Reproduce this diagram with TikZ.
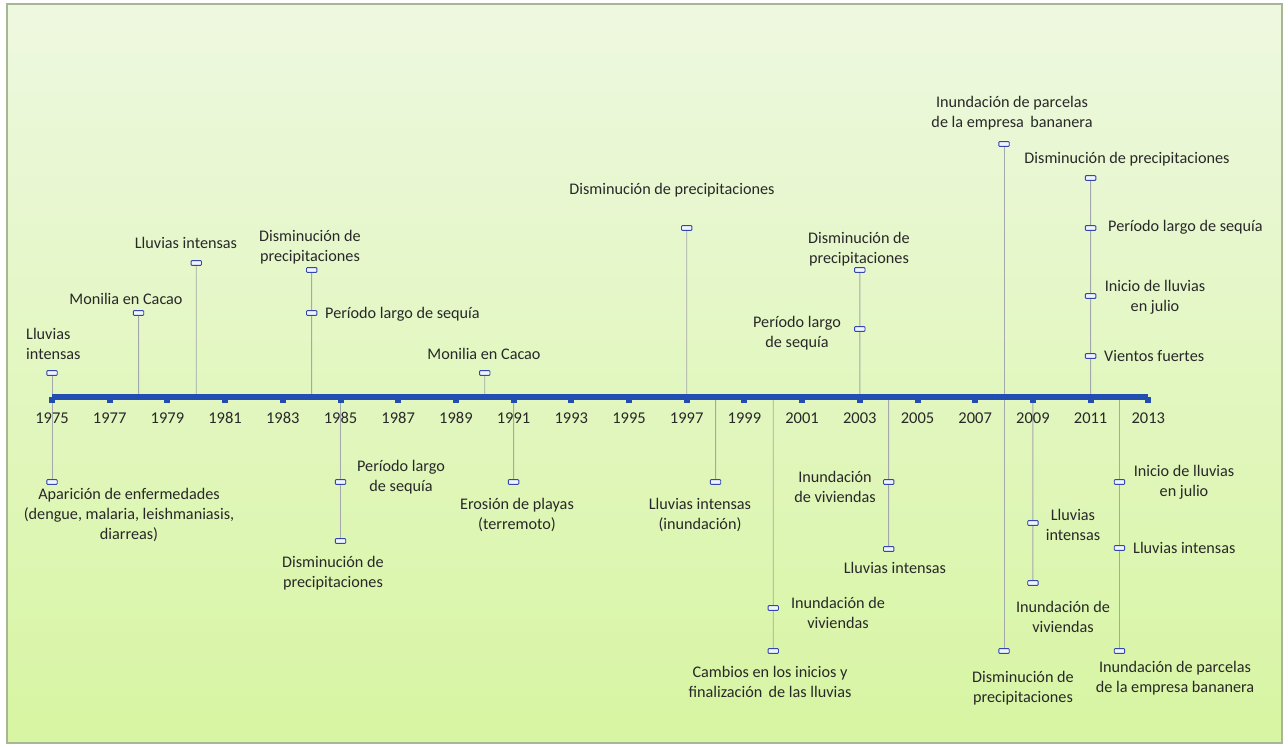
\documentclass[tikz,border=0pt]{standalone}
\usepackage{fontspec}
\setmainfont{Carlito}
\definecolor{bgtop}{RGB}{238,248,224}
\definecolor{bgbot}{RGB}{215,245,162}
\definecolor{frame}{RGB}{168,182,150}
\definecolor{axisblue}{RGB}{34,78,178}
\definecolor{mkblue}{RGB}{52,70,175}
\definecolor{mkfill}{RGB}{240,244,255}
\definecolor{stemgray}{RGB}{165,168,170}
\definecolor{txt}{RGB}{40,40,40}
\begin{document}
\begin{tikzpicture}[x=1pt,y=-1pt,
  mk/.style={draw=mkblue,fill=mkfill,rounded corners=0.8pt,minimum width=9.5pt,minimum height=3.8pt,inner sep=0pt,line width=0.9pt},
  stem/.style={draw=stemgray,line width=0.9pt},
  lbl/.style={text=txt,align=center,inner sep=0pt,font=\fontsize{16.2}{20}\selectfont},
  yr/.style={text=txt,inner sep=0pt,font=\fontsize{16.5}{19}\selectfont}]
\useasboundingbox (0,0) rectangle (1288,747);
\fill[white] (0,0) rectangle (1288,747);
\shade[top color=bgtop,bottom color=bgbot] (7,4) rectangle (1282,743);
\draw[frame,line width=1.2pt] (7,4) rectangle (1282,743);

% axis coordinates
\foreach \yr in {1975,...,2013}{
  \coordinate (ax\yr) at ({52+(\yr-1975)*28.85},397);
}

% markers above
\node[mk] (m75a) at (52,373) {};
\node[mk] (m78a) at (138.55,313) {};
\node[mk] (m80a) at (196.25,263) {};
\node[mk] (m84a) at (311.65,270) {};
\node[mk] (m84b) at (311.65,313) {};
\node[mk] (m90a) at (484.75,373) {};
\node[mk] (m97a) at (686.7,228) {};
\node[mk] (m03a) at (859.8,270) {};
\node[mk] (m03b) at (859.8,329) {};
\node[mk] (m08a) at (1004.05,144) {};
\node[mk] (m11a) at (1090.6,178) {};
\node[mk] (m11b) at (1090.6,228) {};
\node[mk] (m11c) at (1090.6,296) {};
\node[mk] (m11d) at (1090.6,356) {};
% markers below
\node[mk] (m75b) at (52,482) {};
\node[mk] (m85a) at (340.5,482) {};
\node[mk] (m85b) at (340.5,541) {};
\node[mk] (m91a) at (513.6,482) {};
\node[mk] (m98a) at (715.55,482) {};
\node[mk] (m00a) at (773.25,608) {};
\node[mk] (m00b) at (773.25,651) {};
\node[mk] (m04a) at (888.65,482) {};
\node[mk] (m04b) at (888.65,549) {};
\node[mk] (m08b) at (1004.05,651) {};
\node[mk] (m09a) at (1032.9,523) {};
\node[mk] (m09b) at (1032.9,583) {};
\node[mk] (m12a) at (1119.45,482) {};
\node[mk] (m12b) at (1119.45,548) {};
\node[mk] (m12c) at (1119.45,651) {};

% stems
\draw[stem] (ax1975) -- (m75a.south);
\draw[stem] (ax1978) -- (m78a.south);
\draw[stem] (ax1980) -- (m80a.south);
\draw[stem] (ax1984) -- (m84a.south);
\draw[stem] (ax1990) -- (m90a.south);
\draw[stem] (ax1997) -- (m97a.south);
\draw[stem] (ax2003) -- (m03a.south);
\draw[stem] (m08a.south) -- (m08b.north);
\draw[stem] (ax2011) -- (m11a.south);
\draw[stem] (ax1975) -- (m75b.north);
\draw[stem] (ax1985) -- (m85b.north);
\draw[stem] (ax1991) -- (m91a.north);
\draw[stem] (ax1998) -- (m98a.north);
\draw[stem] (ax2000) -- (m00b.north);
\draw[stem] (ax2004) -- (m04b.north);
\draw[stem] (ax2009) -- (m09b.north);
\draw[stem] (ax2012) -- (m12c.north);

% redraw markers on top of stems
\foreach \m in {m75a,m78a,m80a,m84a,m84b,m90a,m97a,m03a,m03b,m08a,m11a,m11b,m11c,m11d,m75b,m85a,m85b,m91a,m98a,m00a,m00b,m04a,m04b,m08b,m09a,m09b,m12a,m12b,m12c}{
  \draw[mkblue,fill=mkfill,rounded corners=0.8pt,line width=0.9pt] (\m.south west) rectangle (\m.north east);
}

% axis line and ticks
\draw[axisblue,line width=6pt] (ax1975) -- (ax2013);
\foreach \yr in {1975,1977,...,2013}{
  \fill[axisblue] ([xshift=-3pt]ax\yr) rectangle ([xshift=3pt,yshift=-6pt]ax\yr);
  \node[yr] (t\yr) at ([yshift=-21pt]ax\yr) {\yr};
}

% labels above
\node[lbl,align=left,anchor=west] (l75a) at (26,344) {Lluvias\\intensas};
\node[lbl] (l78a) at (126,299) {Monilia en Cacao};
\node[lbl] (l80a) at (186,243) {Lluvias intensas};
\node[lbl] (l84a) at (310,247) {Disminución de\\precipitaciones};
\node[lbl,anchor=west] (l84b) at (325,314) {Período largo de sequía};
\node[lbl] (l90a) at (484,354) {Monilia en Cacao};
\node[lbl] (l97a) at (672,190) {Disminución de precipitaciones};
\node[lbl] (l03a) at (859,249) {Disminución de\\precipitaciones};
\node[lbl] (l03b) at (797,333) {Período largo\\de sequía};
\node[lbl] (l08a) at (1012,113) {Inundación de parcelas\\de la empresa \,bananera};
\node[lbl] (l11a) at (1127,159) {Disminución de precipitaciones};
\node[lbl,anchor=west] (l11b) at (1108,227) {Período largo de sequía};
\node[lbl] (l11c) at (1155,297) {Inicio de lluvias\\en julio};
\node[lbl,anchor=west] (l11d) at (1104,356) {Vientos fuertes};
% labels below
\node[lbl] (l75b) at (129,515) {Aparición de enfermedades\\(dengue, malaria, leishmaniasis,\\diarreas)};
\node[lbl] (l85a) at (401,477) {Período largo\\de sequía};
\node[lbl] (l85b) at (333,573) {Disminución de\\precipitaciones};
\node[lbl] (l91a) at (517,515) {Erosión de playas\\(terremoto)};
\node[lbl] (l98a) at (700,515) {Lluvias intensas\\(inundación)};
\node[lbl] (l00a) at (838,613) {Inundación de\\viviendas};
\node[lbl] (l00b) at (770,682) {Cambios en los inicios y\\finalización \,de las lluvias};
\node[lbl] (l04a) at (835,487) {Inundación\\de viviendas};
\node[lbl] (l04b) at (895,568) {Lluvias intensas};
\node[lbl] (l08b) at (1023,688) {Disminución de\\precipitaciones};
\node[lbl] (l09a) at (1073,525) {Lluvias\\intensas};
\node[lbl] (l09b) at (1063,617) {Inundación de\\viviendas};
\node[lbl] (l12a) at (1184,482) {Inicio de lluvias\\en julio};
\node[lbl,anchor=west] (l12b) at (1133,548) {Lluvias intensas};
\node[lbl] (l12c) at (1175,678) {Inundación de parcelas\\de la empresa bananera};
\end{tikzpicture}
\end{document}
